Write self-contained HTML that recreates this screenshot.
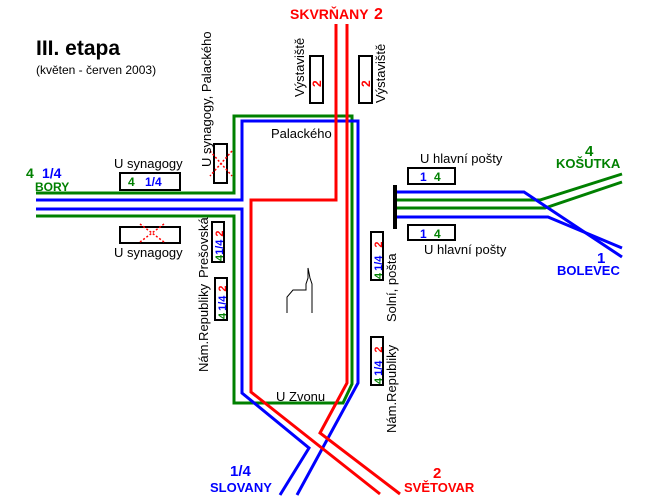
<!DOCTYPE html>
<html><head><meta charset="utf-8"><style>body{margin:0;background:#fff}svg{display:block}text{font-family:"Liberation Sans",sans-serif}</style></head><body>
<svg width="660" height="500" viewBox="0 0 660 500" xmlns="http://www.w3.org/2000/svg" fill="none" stroke-width="3">
<g stroke="#008000">
<polyline points="36,193 234,193 234,116 352,116 352,384 343,403 234,403 234,216 36,216"/>
<polyline points="397,200 540,200 622,174"/>
<polyline points="397,208 545,208 622,182"/>
</g>
<g stroke="#0000ff">
<polyline points="36,200 242,200 242,121 358,121 358,383 297,495"/>
<polyline points="36,209 242,209 242,393 309,448 280,495"/>
<polyline points="397,192 524,192 622,257"/>
<polyline points="397,217 548,217 622,248"/>
</g>
<g stroke="#ff0000">
<polyline points="336,24 336,200 251,200 251,392 380,494"/>
<polyline points="347,24 347,383 320,433 400,494"/>
</g>
<rect x="393" y="185" width="4" height="44" fill="#000" stroke="none"/>
<g stroke="#000" stroke-width="2" fill="#fff">
<rect x="120" y="173" width="60" height="17"/>
<rect x="120" y="227" width="60" height="16"/>
<rect x="408" y="168" width="47" height="16"/>
<rect x="408" y="225" width="47" height="15"/>
<rect x="310" y="56" width="13" height="47"/>
<rect x="359" y="56" width="13" height="47"/>
<rect x="214" y="144" width="13" height="39"/>
<rect x="212" y="222" width="12" height="40"/>
<rect x="215" y="278" width="12" height="42"/>
<rect x="371" y="232" width="12" height="48"/>
<rect x="371" y="337" width="12" height="48"/>
</g>
<g stroke="#ff0000" stroke-width="1.5" stroke-dasharray="2,2">
<line x1="140" y1="224" x2="164" y2="242"/><line x1="164" y1="224" x2="140" y2="242"/>
<line x1="210" y1="151" x2="232" y2="176"/><line x1="232" y1="151" x2="210" y2="176"/>
</g>
<polyline points="287,313 287,297 293,290 306,290 306,284 308,278 308,268 310,278 312,284 312,313" stroke="#000" stroke-width="1"/>
<g font-size="13" fill="#000" stroke="none">
<text x="36" y="55" font-size="21" font-weight="bold">III. etapa</text>
<text x="36" y="74" font-size="12">(květen - červen 2003)</text>
<text x="290" y="19" font-size="14" font-weight="bold" fill="#ff0000">SKVRŇANY</text>
<text x="374" y="19" font-size="16" font-weight="bold" fill="#ff0000">2</text>
<text x="271" y="138">Palackého</text>
<text x="114" y="168">U synagogy</text>
<text x="114" y="257">U synagogy</text>
<text x="420" y="163">U hlavní pošty</text>
<text x="424" y="254">U hlavní pošty</text>
<text x="276" y="401">U Zvonu</text>
<text x="26" y="178" font-size="14" font-weight="bold" fill="#008000">4</text>
<text x="42" y="178" font-size="14" font-weight="bold" fill="#0000ff">1/4</text>
<text x="35" y="191" font-size="12" font-weight="bold" fill="#008000">BORY</text>
<text x="128" y="186" font-size="12" font-weight="bold" fill="#008000">4</text>
<text x="145" y="186" font-size="12" font-weight="bold" fill="#0000ff">1/4</text>
<text x="420" y="181" font-size="12" font-weight="bold" fill="#0000ff">1</text>
<text x="434" y="181" font-size="12" font-weight="bold" fill="#008000">4</text>
<text x="420" y="238" font-size="12" font-weight="bold" fill="#0000ff">1</text>
<text x="434" y="238" font-size="12" font-weight="bold" fill="#008000">4</text>
<text x="585" y="156" font-size="15" font-weight="bold" fill="#008000">4</text>
<text x="556" y="168" font-size="13" font-weight="bold" fill="#008000">KOŠUTKA</text>
<text x="597" y="263" font-size="15" font-weight="bold" fill="#0000ff">1</text>
<text x="557" y="275" font-size="13" font-weight="bold" fill="#0000ff">BOLEVEC</text>
<text x="230" y="476" font-size="15" font-weight="bold" fill="#0000ff">1/4</text>
<text x="210" y="492" font-size="13" font-weight="bold" fill="#0000ff">SLOVANY</text>
<text x="433" y="478" font-size="15" font-weight="bold" fill="#ff0000">2</text>
<text x="404" y="492" font-size="13" font-weight="bold" fill="#ff0000">SVĚTOVAR</text>
<text transform="translate(304,97) rotate(-90)">Výstaviště</text>
<text transform="translate(385,103) rotate(-90)">Výstaviště</text>
<text transform="translate(211,167) rotate(-90)">U synagogy, Palackého</text>
<text transform="translate(208,278) rotate(-90)">Prešovská</text>
<text transform="translate(208,372) rotate(-90)">Nám.Republiky</text>
<text transform="translate(396,322) rotate(-90)">Solní, pošta</text>
<text transform="translate(396,433) rotate(-90)">Nám.Republiky</text>
<text transform="translate(321,87) rotate(-90)" font-size="12" font-weight="bold" fill="#ff0000">2</text>
<text transform="translate(370,87) rotate(-90)" font-size="12" font-weight="bold" fill="#ff0000">2</text>
<g font-size="11" font-weight="bold">
<text transform="translate(223,261) rotate(-90)"><tspan fill="#008000">4</tspan><tspan fill="#0000ff">1/4</tspan><tspan fill="#ff0000" dx="3">2</tspan></text>
<text transform="translate(226,319) rotate(-90)"><tspan fill="#008000">4</tspan><tspan fill="#0000ff" dx="2">1/4</tspan><tspan fill="#ff0000" dx="4">2</tspan></text>
<text transform="translate(382,279) rotate(-90)"><tspan fill="#008000">4</tspan><tspan fill="#0000ff" dx="2">1/4</tspan><tspan fill="#ff0000" dx="8">2</tspan></text>
<text transform="translate(382,384) rotate(-90)"><tspan fill="#008000">4</tspan><tspan fill="#0000ff" dx="2">1/4</tspan><tspan fill="#ff0000" dx="8">2</tspan></text>
</g>
</g>
</svg>
</body></html>
